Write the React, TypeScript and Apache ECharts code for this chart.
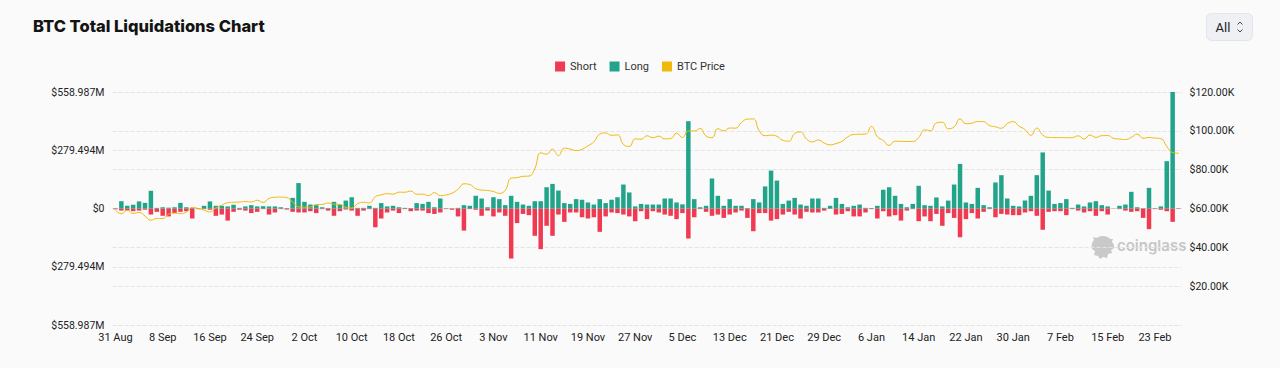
import React, { useEffect, useRef } from "react";
import * as echarts from "echarts";

const categories: string[] = [
  "31 Aug",
  "1 Sep","2 Sep","3 Sep","4 Sep","5 Sep","6 Sep","7 Sep","8 Sep","9 Sep","10 Sep","11 Sep","12 Sep","13 Sep","14 Sep","15 Sep","16 Sep","17 Sep","18 Sep","19 Sep","20 Sep","21 Sep","22 Sep","23 Sep","24 Sep","25 Sep","26 Sep","27 Sep","28 Sep","29 Sep","30 Sep",
  "1 Oct","2 Oct","3 Oct","4 Oct","5 Oct","6 Oct","7 Oct","8 Oct","9 Oct","10 Oct","11 Oct","12 Oct","13 Oct","14 Oct","15 Oct","16 Oct","17 Oct","18 Oct","19 Oct","20 Oct","21 Oct","22 Oct","23 Oct","24 Oct","25 Oct","26 Oct","27 Oct","28 Oct","29 Oct","30 Oct","31 Oct",
  "1 Nov","2 Nov","3 Nov","4 Nov","5 Nov","6 Nov","7 Nov","8 Nov","9 Nov","10 Nov","11 Nov","12 Nov","13 Nov","14 Nov","15 Nov","16 Nov","17 Nov","18 Nov","19 Nov","20 Nov","21 Nov","22 Nov","23 Nov","24 Nov","25 Nov","26 Nov","27 Nov","28 Nov","29 Nov","30 Nov",
  "1 Dec","2 Dec","3 Dec","4 Dec","5 Dec","6 Dec","7 Dec","8 Dec","9 Dec","10 Dec","11 Dec","12 Dec","13 Dec","14 Dec","15 Dec","16 Dec","17 Dec","18 Dec","19 Dec","20 Dec","21 Dec","22 Dec","23 Dec","24 Dec","25 Dec","26 Dec","27 Dec","28 Dec","29 Dec","30 Dec","31 Dec",
  "1 Jan","2 Jan","3 Jan","4 Jan","5 Jan","6 Jan","7 Jan","8 Jan","9 Jan","10 Jan","11 Jan","12 Jan","13 Jan","14 Jan","15 Jan","16 Jan","17 Jan","18 Jan","19 Jan","20 Jan","21 Jan","22 Jan","23 Jan","24 Jan","25 Jan","26 Jan","27 Jan","28 Jan","29 Jan","30 Jan","31 Jan",
  "1 Feb","2 Feb","3 Feb","4 Feb","5 Feb","6 Feb","7 Feb","8 Feb","9 Feb","10 Feb","11 Feb","12 Feb","13 Feb","14 Feb","15 Feb","16 Feb","17 Feb","18 Feb","19 Feb","20 Feb","21 Feb","22 Feb","23 Feb","24 Feb","25 Feb","26 Feb","27 Feb",
];

// Long liquidations (USD millions)
const longLiq: number[] = [
  1, 35, 13, 18, 34, 27, 85, 3, 6, 4, 6, 27, 6, 3, 2, 13, 34, 13, 13, 10,
  18, 3, 10, 16, 10, 11, 10, 10, 6, 2, 51, 122, 32, 19, 16, 6, 2, 32, 18, 38,
  54, 3, 3, 13, 3, 26, 10, 13, 6, 3, 2, 26, 22, 32, 6, 48, 0.5, 0.5, 3, 16,
  13, 61, 48, 6, 54, 45, 16, 61, 32, 19, 13, 35, 35, 102, 118, 86, 26, 22, 45, 42,
  29, 19, 45, 26, 42, 54, 115, 77, 10, 22, 19, 19, 19, 48, 48, 29, 20, 419, 45, 6,
  13, 144, 61, 13, 45, 13, 13, 2, 45, 29, 106, 182, 134, 22, 38, 51, 19, 13, 48, 48,
  3, 13, 51, 22, 6, 13, 19, 3, 2, 13, 90, 102, 61, 22, 6, 22, 109, 16, 13, 53,
  10, 38, 115, 214, 29, 22, 99, 16, 6, 125, 160, 48, 13, 10, 38, 61, 160, 269, 86, 22,
  26, 45, 3, 19, 10, 29, 35, 16, 10, 0.5, 13, 19, 80, 6, 1, 99, 1, 10, 227, 558.987,
  1,
];

// Short liquidations (USD millions)
const shortLiq: number[] = [
  4, 10, 10, 13, 10, 6, 29, 16, 35, 38, 22, 16, 13, 48, 3, 3, 6, 35, 29, 58,
  16, 6, 10, 22, 16, 3, 29, 19, 3, 5, 16, 19, 19, 13, 22, 3, 10, 35, 13, 5,
  10, 35, 10, 3, 90, 48, 19, 10, 22, 3, 13, 10, 10, 22, 26, 19, 3, 6, 38, 106,
  3, 6, 35, 10, 38, 19, 35, 240, 70, 26, 32, 131, 195, 83, 131, 29, 64, 19, 19, 42,
  48, 42, 112, 38, 19, 22, 29, 38, 61, 13, 51, 13, 19, 29, 35, 51, 22, 144, 42, 3,
  16, 35, 29, 45, 29, 19, 10, 45, 109, 22, 22, 58, 51, 29, 16, 29, 48, 16, 19, 19,
  10, 2, 29, 26, 13, 38, 38, 19, 3, 48, 13, 38, 32, 58, 10, 3, 61, 38, 61, 26,
  83, 22, 45, 138, 51, 22, 48, 16, 3, 42, 26, 29, 32, 32, 19, 13, 35, 102, 16, 13,
  13, 32, 3, 10, 19, 13, 35, 13, 29, 1, 3, 10, 16, 13, 45, 99, 3, 6, 13, 64,
  2,
];

// BTC price (USD)
const btcPrice: number[] = [
  58970, 57300, 59120, 57480, 57970, 56160, 53960, 54840, 54880, 57040,
  57650, 57340, 58130, 60570, 60010, 59180, 58210, 60310, 61760, 62950,
  63200, 63350, 63580, 63340, 64260, 63150, 65180, 65790, 65890, 65600,
  63330, 60840, 60630, 60760, 62070, 62090, 62820, 62220, 62130, 60580,
  60280, 62450, 63190, 62850, 66050, 67040, 67610, 67400, 68420, 68360,
  69000, 67370, 67370, 66680, 68160, 66640, 67010, 67930, 69910, 72720,
  72340, 70220, 69480, 69290, 68740, 67810, 69360, 75640, 75900, 76550,
  76690, 80470, 88700, 87950, 90580, 87250, 91070, 90610, 89850, 90460,
  92310, 94290, 98320, 98910, 97670, 97900, 93010, 91960, 95860, 95640,
  97460, 96450, 97280, 95870, 96000, 98770, 96590, 99920, 99920, 101170,
  97300, 96490, 101120, 100000, 101460, 101370, 104300, 106030, 106140, 100040,
  97490, 97760, 97220, 95100, 94690, 98620, 99430, 95790, 94300, 95300,
  93720, 92790, 93430, 94590, 96890, 98110, 98240, 98350, 102240, 96950,
  95040, 92480, 94700, 94570, 94510, 94520, 96530, 100500, 99990, 104080,
  104440, 101090, 102020, 106150, 103650, 103960, 104820, 104710, 102680, 102090,
  101330, 103730, 104740, 102400, 100650, 97690, 101400, 97870, 96620, 96550,
  96530, 96470, 96500, 97430, 95780, 97870, 96620, 97510, 97570, 96120,
  95770, 95540, 96630, 98330, 96130, 96580, 96270, 96000, 92000, 88800,
  88500,
];

const FONT = "Roboto, 'Noto Sans', sans-serif";

echarts.graphic.registerShape(
  "cgLogo",
  echarts.graphic.extendPath(
    "M11 0 C15 0 18 1 19 3 L22 3 L21 6 C23 8 24 11 22 13 L20 14 L21 17 L17 18 L16 22 L12 21 L9 23 L7 20 L3 19 L4 15 L1 13 C0 10 1 6 3 4 L2 1 L6 2 C7 1 9 0 11 0 Z",
    {}
  )
);

export default function App() {
  const ref = useRef<HTMLDivElement>(null);

  useEffect(() => {
    if (!ref.current) return;
    const chart = echarts.init(ref.current, undefined, { renderer: "svg" });
    const maxLiq = Math.max(...longLiq, ...shortLiq);

    chart.setOption({
      animation: false,
      backgroundColor: "#fafafa",
      textStyle: { fontFamily: FONT },
      title: {
        text: "BTC Total Liquidations Chart",
        left: 28,
        top: 12,
        textStyle: {
          fontFamily: "Inter, Roboto, sans-serif",
          fontSize: 16.5,
          fontWeight: 800,
          color: "#141414",
        },
      },
      legend: {
        data: ["Short", "Long", "BTC Price"],
        top: 56,
        left: "center",
        icon: "rect",
        itemWidth: 10,
        itemHeight: 10,
        itemGap: 13,
        textStyle: { fontSize: 11, color: "#333", fontFamily: FONT },
      },
      grid: { left: 112.5, right: 98.5, top: 92, bottom: 43 },
      xAxis: {
        type: "category",
        data: categories,
        boundaryGap: true,
        axisLine: { show: false },
        axisTick: { show: false },
        axisLabel: {
          interval: 7,
          fontSize: 11,
          color: "#222",
          margin: 7,
          fontFamily: FONT,
        },
        splitLine: { show: false },
      },
      yAxis: [
        {
          type: "value",
          min: -maxLiq,
          max: maxLiq,
          interval: maxLiq / 2,
          axisLine: { show: false },
          axisTick: { show: false },
          axisLabel: {
            fontSize: 10.5,
            color: "#222",
            margin: 8,
            fontFamily: FONT,
            formatter: (v: number) =>
              Math.abs(v) < 1e-6 ? "$0" : "$" + (Math.abs(v) + 1e-9).toFixed(3) + "M",
          },
          splitLine: { lineStyle: { type: "dashed", color: "#e4e4e4" } },
        },
        {
          type: "value",
          min: 0,
          max: 120000,
          interval: 20000,
          position: "right",
          axisLine: { show: false },
          axisTick: { show: false },
          axisLabel: {
            fontSize: 10.5,
            color: "#222",
            margin: 8,
            fontFamily: FONT,
            formatter: (v: number) => (v === 0 ? "" : "$" + (v / 1000).toFixed(2) + "K"),
          },
          splitLine: { lineStyle: { type: "dashed", color: "#e4e4e4" } },
        },
      ],
      series: [
        {
          name: "Short",
          type: "bar",
          stack: "liq",
          data: shortLiq.map((v) => -v),
          itemStyle: { color: "#ef3a52" },
          barCategoryGap: "24%",
        },
        {
          name: "Long",
          type: "bar",
          stack: "liq",
          data: longLiq,
          itemStyle: { color: "#22a48b" },
          barCategoryGap: "24%",
        },
        {
          name: "BTC Price",
          type: "line",
          yAxisIndex: 1,
          data: btcPrice,
          smooth: true,
          symbol: "none",
          lineStyle: { width: 1, color: "#f0b90b" },
          itemStyle: { color: "#f0b90b" },
          z: 5,
        },
      ],
      graphic: [
        {
          type: "group",
          left: 1206,
          top: 13,
          children: [
            {
              type: "rect",
              shape: { x: 0, y: 0, width: 46, height: 27, r: 5 },
              style: { fill: "#eef0f3", stroke: "#e2e5e9", lineWidth: 1 },
            },
            {
              type: "text",
              x: 9,
              y: 7,
              style: { text: "All", fontSize: 13, fill: "#222", fontFamily: FONT },
            },
            {
              type: "polyline",
              shape: { points: [[31, 11], [33.5, 8.5], [36, 11]] },
              style: { stroke: "#444", lineWidth: 1, fill: "none" },
            },
            {
              type: "polyline",
              shape: { points: [[31, 16], [33.5, 18.5], [36, 16]] },
              style: { stroke: "#444", lineWidth: 1, fill: "none" },
            },
          ],
        },
        {
          type: "cgLogo",
          x: 1091,
          y: 236,
          scaleX: 1,
          scaleY: 1,
          style: { fill: "#c9c9c9" },
          z: 0,
        },
        {
          type: "text",
          x: 1117,
          y: 238,
          z: 0,
          style: {
            text: "coinglass",
            fontSize: 15,
            fontWeight: 600,
            fill: "#c6c6c6",
            fontFamily: "Inter, Roboto, sans-serif",
          },
        },
      ],
    });

    return () => chart.dispose();
  }, []);

  return (
    <div
      style={{
        position: "absolute",
        left: 0,
        top: 0,
        width: 1280,
        height: 368,
        background: "#fafafa",
      }}
    >
      <div ref={ref} style={{ width: 1280, height: 368 }} />
    </div>
  );
}
